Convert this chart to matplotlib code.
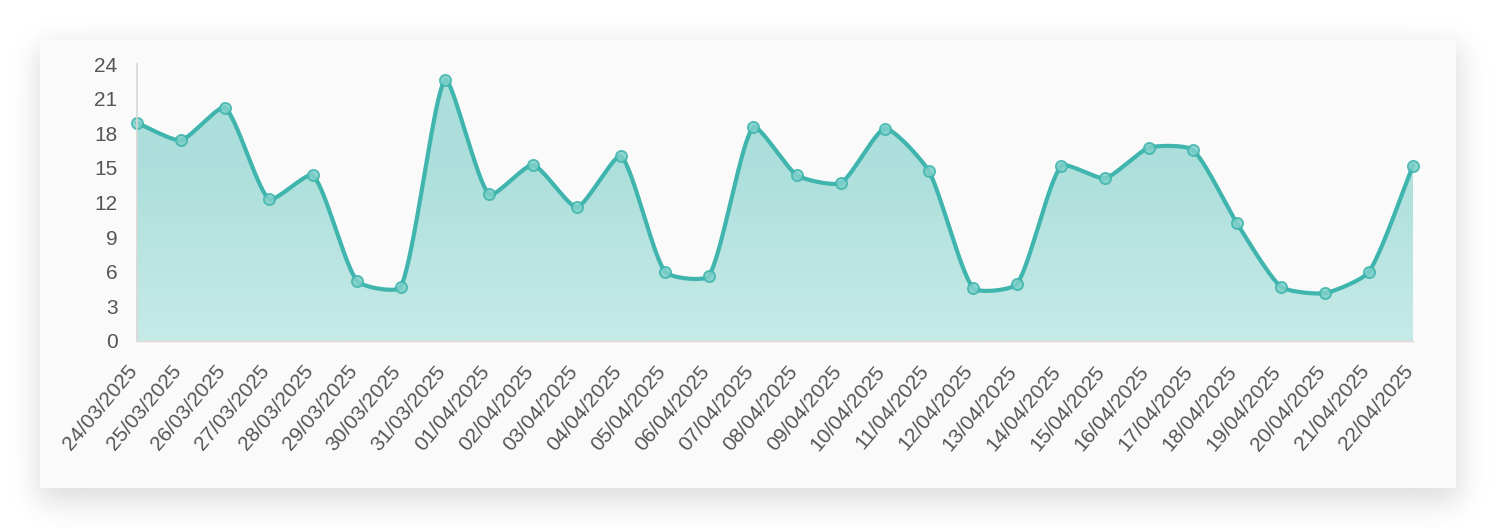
import numpy as np
import matplotlib
matplotlib.use("Agg")
import matplotlib.pyplot as plt
import matplotlib.transforms as mtransforms
from matplotlib.patches import Polygon

# values
dates = ["24/03/2025", "25/03/2025", "26/03/2025", "27/03/2025", "28/03/2025",
         "29/03/2025", "30/03/2025", "31/03/2025", "01/04/2025", "02/04/2025",
         "03/04/2025", "04/04/2025", "05/04/2025", "06/04/2025", "07/04/2025",
         "08/04/2025", "09/04/2025", "10/04/2025", "11/04/2025", "12/04/2025",
         "13/04/2025", "14/04/2025", "15/04/2025", "16/04/2025", "17/04/2025",
         "18/04/2025", "19/04/2025", "20/04/2025", "21/04/2025", "22/04/2025"]
values = [18.9, 17.4, 20.2, 12.3, 14.35, 5.2, 4.7, 22.6, 12.7, 15.25,
          11.6, 16.0, 6.0, 5.65, 18.5, 14.35, 13.7, 18.4, 14.7, 4.6,
          4.95, 15.15, 14.1, 16.75, 16.55, 10.2, 4.7, 4.15, 6.0, 15.2]
y_ticks = [0, 3, 6, 9, 12, 15, 18, 21, 24]

LINE = "#3fb5ad"
TEXT = "#555555"
W, H = 1496, 528

plt.rcParams['font.family'] = ['Liberation Sans', 'DejaVu Sans']

fig = plt.figure(figsize=(W / 100, H / 100), dpi=100)

# card with soft shadow behind the chart
bg = fig.add_axes([0, 0, 1, 1], zorder=0)
yy, xx = np.mgrid[0:H, 0:W] + 0.5


def soft(d, s):
    return 1.0 / (1.0 + np.exp(-d / s))


s = 9.0
shadow = (soft(xx - 38, s) * soft(1460 - xx, s) *
          soft(yy - 46, s) * soft(502 - yy, s)) * 0.14
img = 1.0 - shadow
inside = (xx >= 40) & (xx <= 1456) & (yy >= 40) & (yy <= 488)
img[inside] = 0.98
bg.imshow(img, cmap="gray", vmin=0, vmax=1, extent=(0, W, H, 0),
          aspect="auto", interpolation="bilinear")
bg.set_xlim(0, W)
bg.set_ylim(H, 0)
bg.axis("off")

# plot area
left, right, top, bottom = 137, 1413, 64, 341
ax = fig.add_axes([left / W, (H - bottom) / H, (right - left) / W, (bottom - top) / H],
                  zorder=1)
ax.patch.set_alpha(0)

n = len(values)
x = np.arange(n)
ax.set_xlim(0, n - 1)
ax.set_ylim(0, 24)

# chart.js style bezier spline, computed in pixel space
sx = (right - left) / (n - 1)
sy = (bottom - top) / 24.0
P = np.column_stack([x * sx, np.array(values) * sy])
t = 0.2
cps = []
for i in range(n):
    prev = P[max(i - 1, 0)]
    cur = P[i]
    nxt = P[min(i + 1, n - 1)]
    d01 = np.hypot(*(cur - prev))
    d12 = np.hypot(*(nxt - cur))
    tot = d01 + d12
    s01 = d01 / tot if tot else 0
    s12 = d12 / tot if tot else 0
    cp1 = cur - t * s01 * (nxt - prev)
    cp2 = cur + t * s12 * (nxt - prev)
    cps.append((cp1, cp2))

curve = []
u = np.linspace(0, 1, 40)[:, None]
for i in range(n - 1):
    p0, p3 = P[i], P[i + 1]
    c1, c2 = cps[i][1], cps[i + 1][0]
    seg = ((1 - u) ** 3) * p0 + 3 * ((1 - u) ** 2) * u * c1 + 3 * (1 - u) * u ** 2 * c2 + u ** 3 * p3
    curve.append(seg if i == 0 else seg[1:])
curve = np.vstack(curve)
cx = curve[:, 0] / sx
cy = np.clip(curve[:, 1] / sy, 0, None)

# gradient fill under the curve
poly = np.vstack([[cx[0], 0], np.column_stack([cx, cy]), [cx[-1], 0]])
patch = Polygon(poly, closed=True, facecolor="none", edgecolor="none")
ax.add_patch(patch)
top_c = np.array([172, 223, 219]) / 255.0
bot_c = np.array([198, 234, 231]) / 255.0
g = np.linspace(0, 1, 256)[:, None]
g = np.clip((g - 0.35) / 0.65, 0, 1)
grad = top_c[None, :] * (1 - g) + bot_c[None, :] * g
grad = np.repeat(grad[:, None, :], 2, axis=1)
im = ax.imshow(grad, extent=(0, n - 1, 0, 24), aspect="auto", origin="upper",
               interpolation="bilinear", zorder=1)
im.set_clip_path(patch)

ax.plot(cx, cy, color=LINE, lw=3.0, solid_capstyle="round", zorder=3, clip_on=False)
ax.plot(x, values, linestyle="none", marker="o", ms=8, mfc="#7fd0ca", mec=LINE,
        mew=1.4, alpha=0.85, zorder=4, clip_on=False)

for side in ["top", "right"]:
    ax.spines[side].set_visible(False)
ax.spines["left"].set_color("#d6d6d6")
ax.spines["left"].set_linewidth(1.2)
ax.spines["bottom"].set_color("#e2d6d6")
ax.spines["bottom"].set_linewidth(1.0)
ax.spines["left"].set_zorder(5)

ax.set_yticks(y_ticks)
ax.set_yticklabels([str(v) for v in y_ticks])
ax.set_xticks(x)
ax.set_xticklabels(dates, rotation=50, ha="right", va="top")
ax.tick_params(axis="both", length=0, colors=TEXT, labelsize=15)
ax.tick_params(axis="y", pad=14)
ax.tick_params(axis="x", pad=15)
offset = mtransforms.ScaledTranslation(4 / 100, 0, fig.dpi_scale_trans)
for lbl in ax.get_xticklabels():
    lbl.set_transform(lbl.get_transform() + offset)

fig.savefig("out.png", dpi=100)
